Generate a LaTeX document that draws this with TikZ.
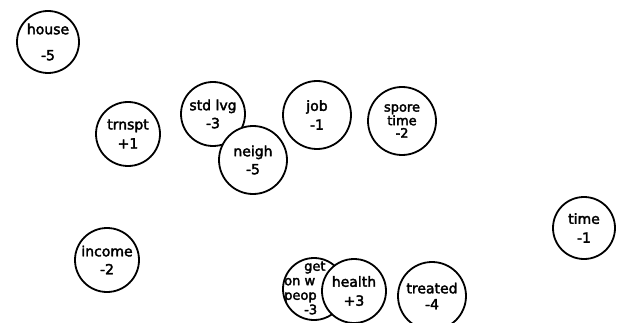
\documentclass[tikz,border=0pt]{standalone}
\usepackage{fontspec}
\setmainfont{DejaVu Sans}[FakeBold=2.5]
\usepackage{tikz}

\tikzset{
  factor/.style={circle, draw, line width=1.8pt, fill=white, minimum size=#1,
    inner sep=0pt, align=center, font=\fontsize{14}{15}\selectfont},
  factor/.default=64pt,
  factortext/.style={inner sep=0pt, align=left, font=\fontsize{13}{14.5}\selectfont}
}

\begin{document}
\begin{tikzpicture}[x=1pt, y=-1pt]
    % Page frame
    \clip (0,0) rectangle (617,323);

    % Upper row
    \node[factor=62pt] (house) at (48,42) {house\\[11pt]-5};
    \node[factor] (trnspt) at (128,134) {trnspt\\[4pt]+1};
    \node[factor] (stdlvg) at (213,114) {std lvg\\[3pt]-3};
    \node[factor=68pt] (neigh) at (253,160) {neigh\\[3pt]-5};
    \node[factor=68pt] (job) at (317,115) {job\\[4pt]-1};
    \node[factor=68pt, font=\fontsize{13}{12.5}\selectfont] (spare) at (402,121) {spore\\time\\-2};

    % Right side
    \node[factor=62pt] (time) at (584,228) {time\\[4pt]-1};

    % Lower row
    \node[factor] (income) at (107,260) {income\\[3pt]-2};
    \node[factor=62pt] (getpeop) at (314,289) {};
    \node[factortext, anchor=west] (getpeoptext) at (284,288) {\hspace*{20pt}get\\on w\\peop\\\hspace*{20pt}-3};
    \node[factor=64pt] (health) at (354,291) {health\\[4pt]+3};
    \node[factor=68pt] (treated) at (432,296) {treated\\[1pt]-4};
\end{tikzpicture}
\end{document}
